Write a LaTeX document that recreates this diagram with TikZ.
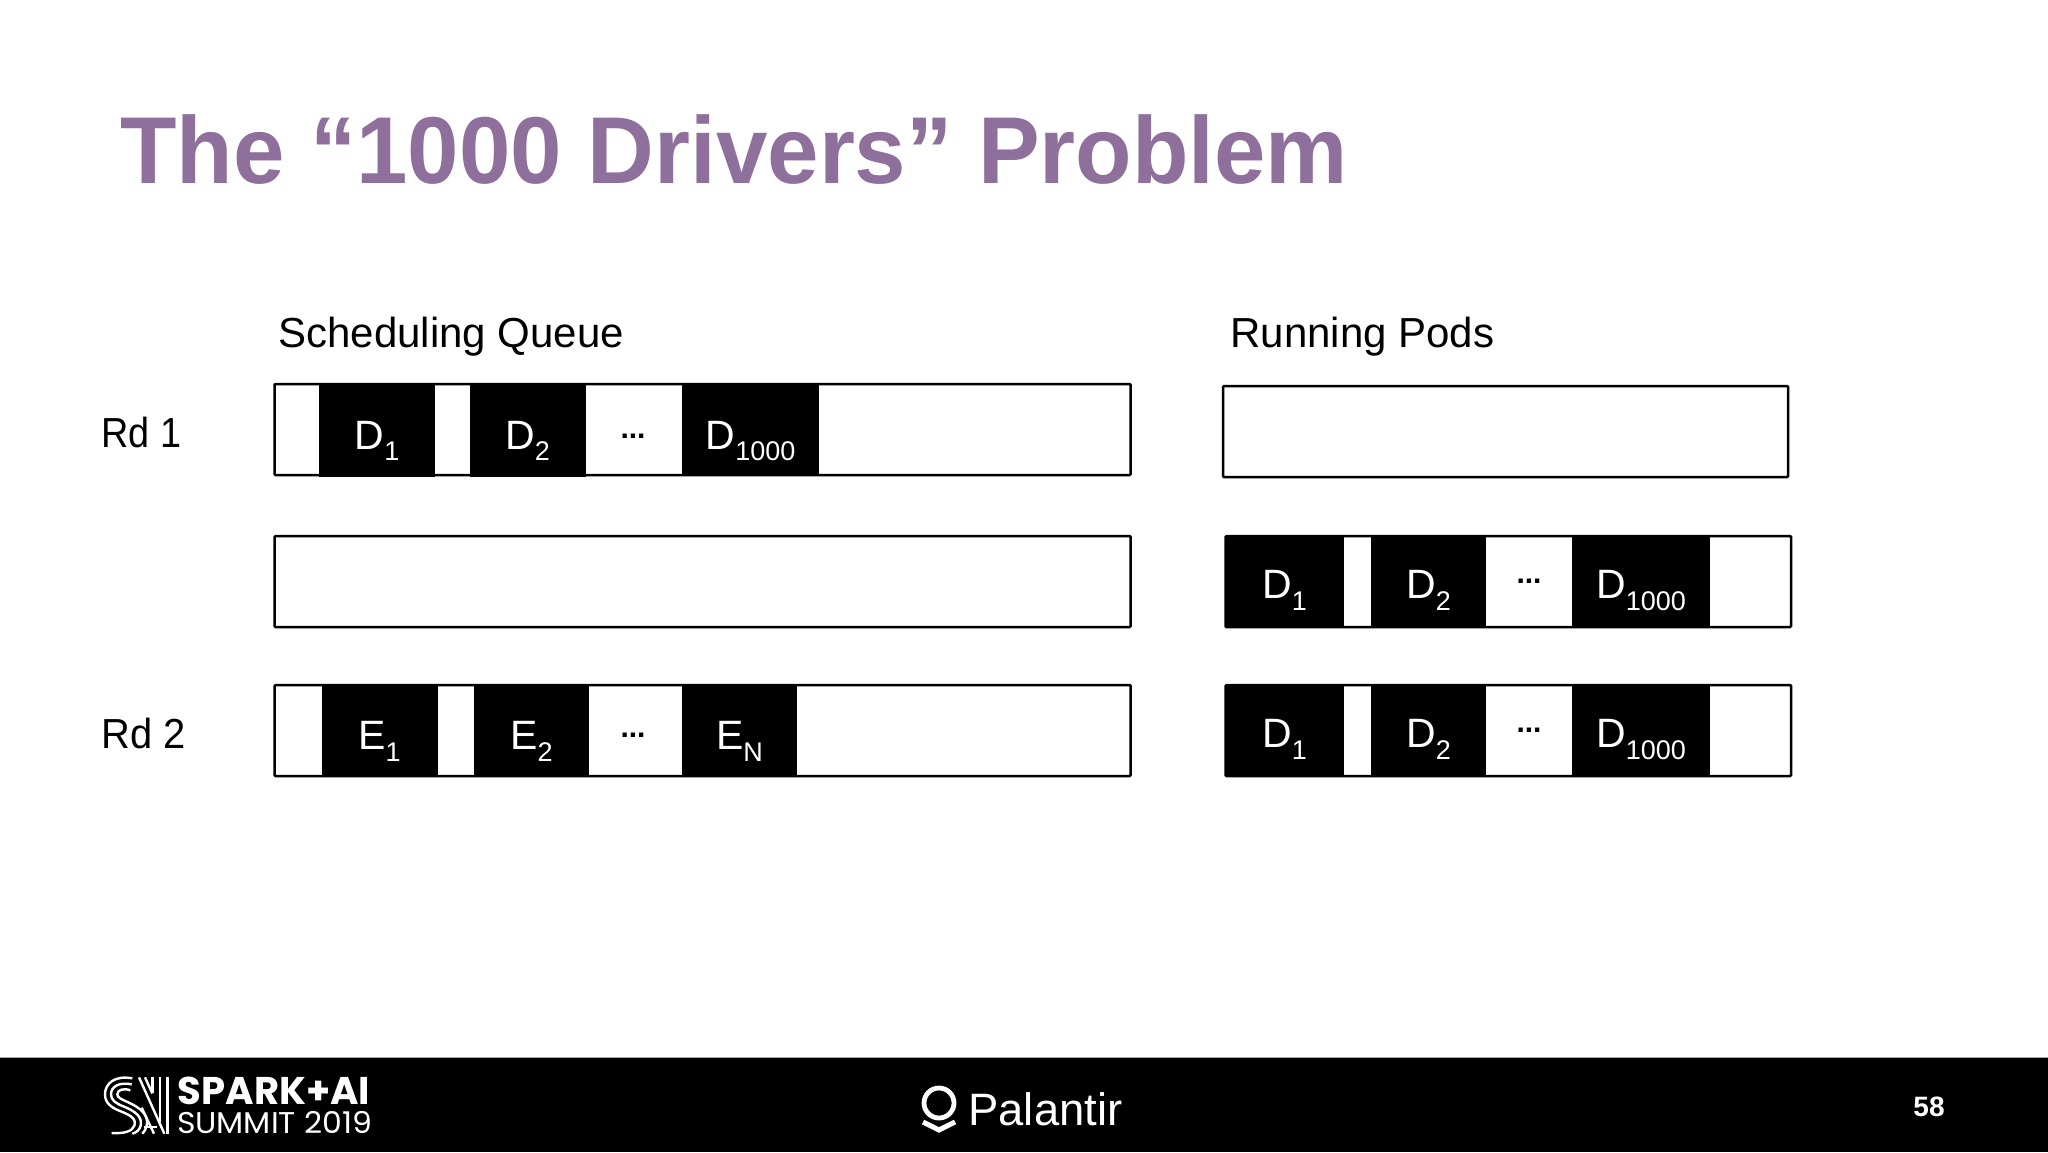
\documentclass[tikz,border=0pt]{standalone}
\usepackage{fontspec}
\setmainfont{Liberation Sans}
\newfontfamily\logofont{Poppins}
\definecolor{titlepurple}{HTML}{8F6F9C}
\newcommand{\subs}[1]{\raisebox{-5.8pt}{\fontsize{13.5}{13.5}\selectfont #1}}
\tikzset{
  frame/.style={draw=black,line width=1.25pt,fill=white,rounded corners=0.5pt,inner sep=0pt},
  cell/.style={fill=black,text=white,inner sep=0pt,font=\fontsize{20.5}{20.5}\selectfont,text height=26pt,text depth=7pt,align=center},
  cellhigh/.style={cell,text height=24pt},
  dots/.style={inner sep=0pt,font=\bfseries\fontsize{15}{15}\selectfont},
  lab/.style={anchor=base west,inner sep=0pt,font=\fontsize{21}{21}\selectfont},
  logoline/.style={draw=white,line width=1.2pt,line cap=butt}
}
\begin{document}
\begin{tikzpicture}[x=0.5pt,y=-0.5pt]
\useasboundingbox (0,0) rectangle (2048,1152);
\fill[white] (0,0) rectangle (2048,1152);
\node[anchor=base west,inner sep=0pt,text=titlepurple,font=\bfseries\fontsize{47.5}{47.5}\selectfont] (title) at (120,183) {\scalebox{0.973}[1]{The “1000 Drivers” Problem}};
\node[lab] (hq) at (278,347) {Scheduling Queue};
\node[lab] (hr) at (1230,347) {Running Pods};
\node[lab] (rd1) at (101,447) {\scalebox{0.9}[1]{Rd 1}};
\node[lab] (rd2) at (101,748.5) {\scalebox{0.95}[1]{Rd 2}};
% frames
\draw[frame] (274.5,384) rectangle (1130.5,475);
\draw[frame] (274.5,536) rectangle (1130.5,627);
\draw[frame] (274.5,685) rectangle (1130.5,776);
\draw[frame] (1223,386) rectangle (1788,477);
\draw[frame] (1225.5,536) rectangle (1791,627);
\draw[frame] (1225.5,685) rectangle (1791,776);
% row 1 queue
\node[cell,minimum width=58pt,minimum height=46.5pt] (a1) at (377,430) {D\subs{1}};
\node[cell,minimum width=58pt,minimum height=46.5pt] (a2) at (527.5,430) {D\subs{2}};
\node[dots] (a3) at (633,436.5) {...};
\node[cell,minimum width=68.5pt,minimum height=46pt] (a4) at (750.5,430) {D\subs{1000}};
% row 3 queue
\node[cell,minimum width=58pt,minimum height=46pt] (e1) at (379.5,730.5) {E\subs{1}};
\node[cell,minimum width=57.5pt,minimum height=46pt] (e2) at (531.5,730.5) {E\subs{2}};
\node[dots] (e3) at (633,735) {...};
\node[cell,minimum width=57.5pt,minimum height=46pt] (e4) at (739.5,730.5) {E\subs{N}};
% running row 2
\node[cellhigh,minimum width=59pt,minimum height=46pt] (b1) at (1284.5,581.5) {D\subs{1}};
\node[cellhigh,minimum width=57.5pt,minimum height=46pt] (b2) at (1428.5,581.5) {D\subs{2}};
\node[dots] (b3) at (1529,581.5) {...};
\node[cellhigh,minimum width=69pt,minimum height=46pt] (b4) at (1641,581.5) {D\subs{1000}};
% running row 3
\node[cellhigh,minimum width=59pt,minimum height=46pt] (c1) at (1284.5,730.5) {D\subs{1}};
\node[cellhigh,minimum width=57.5pt,minimum height=46pt] (c2) at (1428.5,730.5) {D\subs{2}};
\node[dots] (c3) at (1529,730.5) {...};
\node[cellhigh,minimum width=69pt,minimum height=46pt] (c4) at (1641,730.5) {D\subs{1000}};
% footer
\fill[black] (0,1058) rectangle (2048,1152);
\draw[gray!70,line width=0.5pt] (0,1057.5) -- (2048,1057.5);
\begin{scope}[shift={(95,1065)},x=0.1667pt,y=-0.1667pt]
  % S of the mark
  \draw[logoline] (112,40) .. controls (60,30) and (30,55) .. (30,88) .. controls (30,115) and (50,128) .. (75,138) .. controls (105,150) and (125,160) .. (118,182) .. controls (112,200) and (85,206) .. (50,204);
  \draw[logoline] (110,58) .. controls (72,50) and (48,65) .. (48,88) .. controls (48,105) and (62,115) .. (85,124) .. controls (120,138) and (143,155) .. (137,182) .. controls (133,195) and (125,202) .. (112,206);
  \draw[logoline] (106,76) .. controls (85,68) and (67,75) .. (67,88) .. controls (67,98) and (80,103) .. (100,112) .. controls (135,128) and (163,150) .. (155,182) .. controls (153,192) and (148,200) .. (142,206);
  % A of the mark
  \draw[logoline] (132,37) -- (208,206);
  \draw[logoline] (150,37) -- (172,85);
  \draw[logoline] (140,128) -- (177,206);
  \draw[logoline] (172,37) -- (172,85);
  \draw[logoline] (195,37) -- (195,170);
  \draw[logoline] (218,37) -- (218,206);
  \draw[logoline] (148,186) -- (186,186);
\end{scope}
\begin{scope}[shift={(0,1040)},x=0.1667pt,y=-0.1667pt]
  \node[anchor=base west,inner sep=0pt,text=white,font=\logofont\bfseries\fontsize{19.3}{19.3}\selectfont] (spark) at (532,192) {SPARK+AI};
  \node[anchor=base west,inner sep=0pt,text=white,font=\logofont\fontsize{15}{15}\selectfont] (summit) at (530,280) {\scalebox{1.05}[1]{SUMMIT 2019}};
\end{scope}
\coordinate (ringc) at (939,1103);
\draw[white,line width=2.4pt] (ringc) circle (15);
\coordinate (chl) at (923,1122);
\coordinate (chm) at (939,1130);
\coordinate (chr) at (955,1122);
\draw[white,line width=2.5pt] (chl) -- (chm) -- (chr);
\node[anchor=base west,inner sep=0pt,text=white,font=\fontsize{22.7}{22.7}\selectfont] (pal) at (968,1125) {Palantir};
\node[text=white,inner sep=0pt,font=\bfseries\fontsize{14}{14}\selectfont] (pn) at (1929,1107) {58};
\end{tikzpicture}
\end{document}
